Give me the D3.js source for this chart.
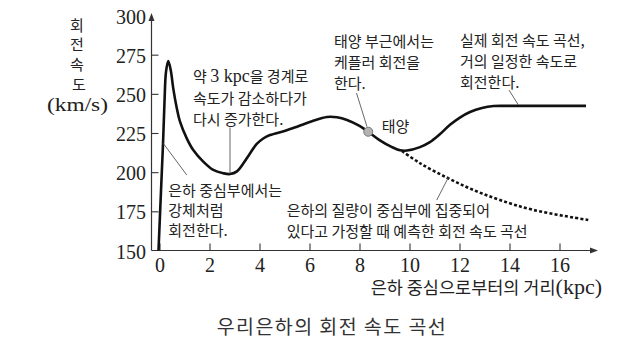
<!DOCTYPE html>
<html><head><meta charset="utf-8">
<script src="https://cdn.jsdelivr.net/npm/d3@7"></script>
<style>body{margin:0;background:#fff}svg{display:block}</style>
</head><body>
<script>
// ---- data ----
const xTicks = [0,2,4,6,8,10,12,14,16];
const yTicks = [150,175,200,225,250,275,300];
const actualKpc = [-0.04,0.06,0.14,0.2,0.26,0.35,0.45,0.55,0.69,0.82,1.09,1.35,1.75,2.15,2.55,2.82,3.1,3.35,3.6,3.89,4.15,4.42,5.0,5.5,6.1,6.7,7.1,7.5,8.0,8.35,8.8,9.3,9.62,9.9,10.42,10.8,11.2,11.62,12.0,12.42,12.9,13.37,14.0,17.06];
const actualV   = [150,188,218,245,264,271,265,253.5,241,232.2,221.6,214.1,206.7,201.4,199.3,198.8,200.5,205.5,211.5,218,221.5,223.7,226.3,229,232.5,235.2,235,233.3,229.5,225.8,220.5,216,214,213.8,216,219,224,230.2,234.7,238.4,241,242.2,242.3,242.3];
const keplerKpc = [9.7,10.42,11.55,12.56,13.62,14.95,17.15];
const keplerV   = [213.5,205.7,196.1,188.6,182.2,175.9,169.5];
const sunKpc = 8.35, sunV = 225.8;

const W = 632, H = 338;
const svg = d3.select("body").append("svg").attr("width", W).attr("height", H);
const x = d3.scaleLinear().domain([0,16]).range([159.5,559.5]);
const y = d3.scaleLinear().domain([150,300]).range([250.5,15.5]);
const SERIF = '"Liberation Serif"';
const SANS = '"Noto Sans CJK KR"';
const axColor = "#333";

// axes lines
const x0 = x(-0.32), xEnd = x(17.54), yTop = y(301.6), yBase = y(150);
svg.append("line").attr("x1", x0).attr("x2", xEnd - 4).attr("y1", yBase).attr("y2", yBase).attr("stroke", axColor).attr("stroke-width", 1.2);
svg.append("line").attr("x1", x0).attr("x2", x0).attr("y1", yBase).attr("y2", yTop + 4).attr("stroke", axColor).attr("stroke-width", 1.2);
svg.append("path").attr("d", `M${xEnd},${yBase} L${xEnd-8},${yBase-3} L${xEnd-8},${yBase+3} Z`).attr("fill", axColor);
svg.append("path").attr("d", `M${x0},${yTop} L${x0-3},${yTop+8} L${x0+3},${yTop+8} Z`).attr("fill", axColor);

// x axis ticks
const gx = svg.append("g").attr("transform", `translate(0,${yBase})`)
  .call(d3.axisBottom(x).tickValues(xTicks).tickSize(-7).tickPadding(7));
gx.select(".domain").remove();
gx.selectAll("line").attr("stroke", axColor).attr("stroke-width", 1.1);
gx.selectAll("text").style("font-family", SERIF).style("font-size","20px").attr("fill", "#222");

// y axis ticks
const gy = svg.append("g").attr("transform", `translate(${x0},0)`)
  .call(d3.axisLeft(y).tickValues(yTicks).tickSize(-7).tickPadding(5.5));
gy.select(".domain").remove();
gy.selectAll(".tick").filter(d => d === 150 || d === 300).select("line").remove();
gy.selectAll("line").attr("stroke", axColor).attr("stroke-width", 1.1);
gy.selectAll("text").style("font-family", SERIF).style("font-size","20px").attr("fill", "#222").attr("dy", "0.38em");

// curves
const line = d3.line().x(d => x(d[0])).y(d => y(d[1])).curve(d3.curveCatmullRom.alpha(0.5));
svg.append("path").datum(keplerKpc.map((k,i)=>[k,keplerV[i]]))
  .attr("d", line).attr("fill","none").attr("stroke","#111").attr("stroke-width",2.6).attr("stroke-dasharray","3,2.2");
svg.append("path").datum(actualKpc.map((k,i)=>[k,actualV[i]]))
  .attr("d", line).attr("fill","none").attr("stroke","#111").attr("stroke-width",2.6).attr("stroke-linejoin","round");

// leader lines (data coords)
const leaders = [
  [[0.15,218.4],[1.09,198.2]],
  [[2.82,228.5],[2.82,199.2]],
  [[7.88,250.5],[8.3,229]],
  [[13.98,252.4],[14.35,243]],
  [[11.09,182.2],[11.55,196.5]]
];
leaders.forEach(l => svg.append("line")
  .attr("x1", x(l[0][0])).attr("y1", y(l[0][1])).attr("x2", x(l[1][0])).attr("y2", y(l[1][1]))
  .attr("stroke","#555").attr("stroke-width",0.9));

// sun marker
svg.append("circle").attr("cx", x(sunKpc)).attr("cy", y(sunV)).attr("r", 4.5)
  .attr("fill","#b3b3b3").attr("stroke","#777").attr("stroke-width",1);

// text helper
function txt(px, py, s, opt={}) {
  return svg.append("text").attr("x", px).attr("y", py).text(s)
    .style("font-family", opt.ff || SANS).style("font-size", (opt.fs || 15) + "px")
    .attr("fill", opt.fill || "#222").attr("text-anchor", opt.anchor || "start");
}

// y axis label
[["회",77,30.5],["전",77,50],["속",77,70],["도",79,90]].forEach(c => txt(c[1], c[2], c[0], {fs:15, anchor:"middle"}));
txt(47, 110.5, "(km/s)", {ff:SERIF, fs:19}).attr("textLength", 61).attr("lengthAdjust","spacingAndGlyphs");

// x axis title
const xt = svg.append("text").attr("x", 602).attr("y", 293.5).attr("text-anchor","end").attr("fill","#222");
xt.append("tspan").style("font-family", SANS).style("font-size","17.5px").text("은하 중심으로부터의 거리");
xt.append("tspan").style("font-family", SERIF).style("font-size","22px").text("(kpc)");

// caption
txt(216.7, 333.5, "우리은하의 회전 속도 곡선", {fs:19.5, fill:"#333"}).attr("textLength", 229).attr("lengthAdjust","spacing");

// annotations
const a1 = svg.append("text").attr("x",193).attr("y",82).attr("fill","#222");
a1.append("tspan").style("font-family", SANS).style("font-size","15px").text("약 ");
a1.append("tspan").style("font-family", SERIF).style("font-size","18px").text("3 kpc");
a1.append("tspan").style("font-family", SANS).style("font-size","15px").text("을 경계로");
txt(193, 103.5, "속도가 감소하다가");
txt(193, 125, "다시 증가한다.");

txt(168.3, 195.5, "은하 중심부에서는");
txt(168.3, 215.5, "강체처럼");
txt(168.3, 235.5, "회전한다.");

txt(286.7, 215.5, "은하의 질량이 중심부에 집중되어");
txt(286.7, 236.5, "있다고 가정할 때 예측한 회전 속도 곡선");

txt(334, 47, "태양 부근에서는");
txt(334, 68, "케플러 회전을");
txt(334, 89, "한다.");

txt(460, 46, "실제 회전 속도 곡선,");
txt(460, 67, "거의 일정한 속도로");
txt(460, 87.5, "회전한다.");

txt(381.7, 132, "태양");
</script>
</body></html>
